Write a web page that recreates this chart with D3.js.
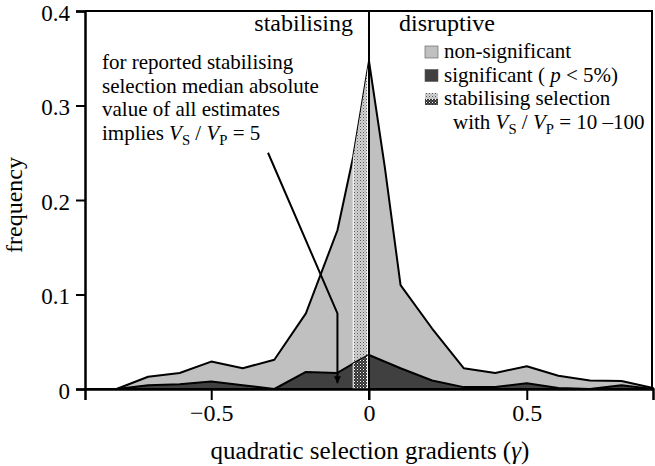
<!DOCTYPE html>
<html>
<head>
<meta charset="utf-8">
<script src="https://cdn.jsdelivr.net/npm/d3@7"></script>
<style>
  body { margin: 0; background: #fff; }
  svg text { font-family: "Liberation Serif", "Times New Roman", serif; fill: #000; }
</style>
</head>
<body>
<svg id="chart" width="655" height="466"></svg>
<script>
// quadratic gradient bins (polygon vertices)
const gammaAll = [-0.9, -0.8, -0.7, -0.6, -0.5, -0.4, -0.3, -0.2, -0.1, -0.05, 0, 0.05, 0.1, 0.2, 0.3, 0.4, 0.5, 0.6, 0.7, 0.8, 0.9];
const freqAll  = [0, 0, 0.013, 0.017, 0.029, 0.022, 0.031, 0.080, 0.168, 0.246, 0.347, 0.235, 0.110, 0.064, 0.022, 0.017, 0.024, 0.014, 0.009, 0.0085, 0.001];

const gammaSig = [-0.9, -0.8, -0.7, -0.6, -0.5, -0.4, -0.3, -0.2, -0.1, -0.05, 0, 0.1, 0.2, 0.3, 0.4, 0.5, 0.6, 0.7, 0.8, 0.9];
const freqSig  = [0, 0, 0.004, 0.005, 0.008, 0.004, 0, 0.018, 0.017, 0.027, 0.036, 0.022, 0.009, 0.002, 0.002, 0.006, 0.001, 0, 0.004, 0];

// stabilising selection with Vs/Vp = 10-100
const stabBand = [-0.05, -0.005];
// arrow: Vs/Vp = 5
const arrowPts = [[-0.32, 0.25], [-0.1, 0.08], [-0.1, 0.006]];

const yTicks = [0, 0.1, 0.2, 0.3, 0.4];
const yTickLabels = ["0", "0.1", "0.2", "0.3", "0.4"];
const xTicks = [-0.5, 0, 0.5];
const xTickLabels = ["\u22120.5", "0", "0.5"];

const noteLines = [
    [{t: "for reported stabilising"}],
    [{t: "selection median absolute"}],
    [{t: "value of all estimates"}],
    [{t: "implies "}, {t: "V", i: true}, {t: "S", sub: true}, {t: " / "}, {t: "V", i: true}, {t: "P", sub: true}, {t: " = 5"}]
];
const legendLines = [
    {box: "light", seg: [{t: "non-significant"}]},
    {box: "dark", seg: [{t: "significant ( "}, {t: "p", i: true}, {t: " < 5%)"}]},
    {box: "stipple", seg: [{t: "stabilising selection"}]},
    {box: null, seg: [{t: "with "}, {t: "V", i: true}, {t: "S", sub: true}, {t: " / "}, {t: "V", i: true}, {t: "P", sub: true}, {t: " = 10 \u2013100"}]}
];

const LIGHT = "#c0c0c0", DARK = "#404040";

let svg = d3.select("#chart");
let x = d3.scaleLinear().domain([-0.9, 0.9]).range([85, 653]);
let y = d3.scaleLinear().domain([0, 0.4]).range([389, 11]);

// stipple patterns
let defs = svg.append("defs");
let pl = defs.append("pattern").attr("id", "stipL").attr("patternUnits", "userSpaceOnUse")
    .attr("width", 3).attr("height", 3);
pl.append("rect").attr("width", 3).attr("height", 3).attr("fill", "#d4d4d4");
pl.append("rect").attr("x", 0).attr("y", 0).attr("width", 1).attr("height", 1).attr("fill", "#555");
pl.append("rect").attr("x", 1.5).attr("y", 1.5).attr("width", 1).attr("height", 1).attr("fill", "#888");
let pd = defs.append("pattern").attr("id", "stipD").attr("patternUnits", "userSpaceOnUse")
    .attr("width", 3).attr("height", 3);
pd.append("rect").attr("width", 3).attr("height", 3).attr("fill", "#303030");
pd.append("rect").attr("x", 0).attr("y", 0).attr("width", 1).attr("height", 1).attr("fill", "#fff");
pd.append("rect").attr("x", 1.5).attr("y", 1.5).attr("width", 1).attr("height", 1).attr("fill", "#aaa");

defs.append("marker").attr("id", "head").attr("viewBox", "0 0 10 10")
    .attr("refX", 10).attr("refY", 5).attr("markerWidth", 3.5).attr("markerHeight", 4.5)
    .attr("markerUnits", "strokeWidth").attr("orient", "auto")
    .append("path").attr("d", "M0,0L10,5L0,10Z").attr("fill", "#000");

let allData = gammaAll.map((g, i) => [g, freqAll[i]]);
let sigData = gammaSig.map((g, i) => [g, freqSig[i]]);

let area = d3.area().x(d => x(d[0])).y0(y(0)).y1(d => y(d[1]));

defs.append("clipPath").attr("id", "clipAll").append("path").attr("d", area(allData));
defs.append("clipPath").attr("id", "clipSig").append("path").attr("d", area(sigData));

// non-significant (total) area
svg.append("path").attr("d", area(allData))
    .attr("fill", LIGHT).attr("stroke", "#000").attr("stroke-width", 2).attr("stroke-linejoin", "round");

// stipple band over light
svg.append("rect").attr("clip-path", "url(#clipAll)")
    .attr("x", x(stabBand[0])).attr("width", x(stabBand[1]) - x(stabBand[0]))
    .attr("y", y(0.4)).attr("height", y(0) - y(0.4))
    .attr("fill", "url(#stipL)").attr("stroke", "#fff").attr("stroke-width", 1);

// significant area
svg.append("path").attr("d", area(sigData))
    .attr("fill", DARK).attr("stroke", "#000").attr("stroke-width", 2).attr("stroke-linejoin", "round");

// stipple band over dark
svg.append("rect").attr("clip-path", "url(#clipSig)")
    .attr("x", x(stabBand[0])).attr("width", x(stabBand[1]) - x(stabBand[0]))
    .attr("y", y(0.4)).attr("height", y(0) - y(0.4))
    .attr("fill", "url(#stipD)").attr("stroke", "#fff").attr("stroke-width", 1);

// frame (top + right)
svg.append("path")
    .attr("d", "M" + x(-0.9) + "," + y(0.4) + "H" + (x(0.9) - 1) + "V" + y(0))
    .attr("fill", "none").attr("stroke", "#000").attr("stroke-width", 2);

// axes
let yAxis = svg.append("g").attr("transform", "translate(" + x(-0.9) + ",0)")
    .call(d3.axisLeft(y).tickValues(yTicks).tickSize(9).tickPadding(6)
        .tickFormat((d, i) => yTickLabels[i]));
let xAxis = svg.append("g").attr("transform", "translate(0," + y(0) + ")")
    .call(d3.axisBottom(x).tickValues(xTicks).tickSize(11).tickPadding(3)
        .tickFormat((d, i) => xTickLabels[i]));
[yAxis, xAxis].forEach(a => {
    a.select(".domain").attr("stroke-width", 2.5);
    a.selectAll(".tick line").attr("stroke-width", 2);
    a.selectAll(".tick text").style("font-size", "24px").attr("font-family", null);
    a.attr("font-family", null).attr("font-size", null);
});
yAxis.selectAll(".tick text").style("font-size", "23px").attr("dy", "0.4em");
xAxis.selectAll(".tick text").attr("dy", "0.75em");

// central divider
svg.append("line").attr("x1", x(0)).attr("x2", x(0)).attr("y1", y(0.4)).attr("y2", y(0) + 11)
    .attr("stroke", "#000").attr("stroke-width", 2);

// arrow
svg.append("path").attr("d", d3.line().x(d => x(d[0])).y(d => y(d[1]))(arrowPts))
    .attr("fill", "none").attr("stroke", "#000").attr("stroke-width", 2)
    .attr("marker-end", "url(#head)");

// rich text helper
function richText(sel, segs, size) {
    let t = sel.style("font-size", size + "px");
    segs.forEach(s => {
        let sp = t.append("tspan").text(s.t);
        if (s.i) sp.style("font-style", "italic");
        if (s.sub) sp.style("font-size", (size * 0.7) + "px").attr("dy", 5);
        else if (sp.node().previousSibling && sp.node().previousSibling.__sub) sp.attr("dy", -5);
        sp.node().__sub = !!s.sub;
    });
    return t;
}

svg.append("text").attr("x", 353).attr("y", 31).attr("text-anchor", "end")
    .style("font-size", "24px").text("stabilising");
svg.append("text").attr("x", 399).attr("y", 31)
    .style("font-size", "24px").text("disruptive");

noteLines.forEach((segs, i) => {
    richText(svg.append("text").attr("x", 102).attr("y", 69 + i * 23.7), segs, 21);
});

legendLines.forEach((row, i) => {
    let by = 58 + i * 23.5;
    if (row.box) {
        let fill = row.box === "light" ? LIGHT : row.box === "dark" ? DARK : null;
        if (fill) {
            svg.append("rect").attr("x", 425).attr("y", by - 12).attr("width", 13).attr("height", 12)
                .attr("fill", fill).attr("stroke", "#555").attr("stroke-width", 0.6);
        } else {
            svg.append("rect").attr("x", 425).attr("y", by - 12).attr("width", 13).attr("height", 6)
                .attr("fill", "url(#stipL)");
            svg.append("rect").attr("x", 425).attr("y", by - 6).attr("width", 13).attr("height", 6)
                .attr("fill", "url(#stipD)");
        }
    }
    richText(svg.append("text").attr("x", row.box ? 444 : 453).attr("y", by), row.seg, 21);
});

// axis titles
svg.append("text").attr("transform", "translate(22,205) rotate(-90)").attr("text-anchor", "middle")
    .style("font-size", "24px").text("frequency");
let xt = svg.append("text").attr("x", 370).attr("y", 459).attr("text-anchor", "middle")
    .style("font-size", "25px");
xt.append("tspan").text("quadratic selection gradients  (");
xt.append("tspan").style("font-style", "italic").text("\u03b3");
xt.append("tspan").text(")");
</script>
</body>
</html>
